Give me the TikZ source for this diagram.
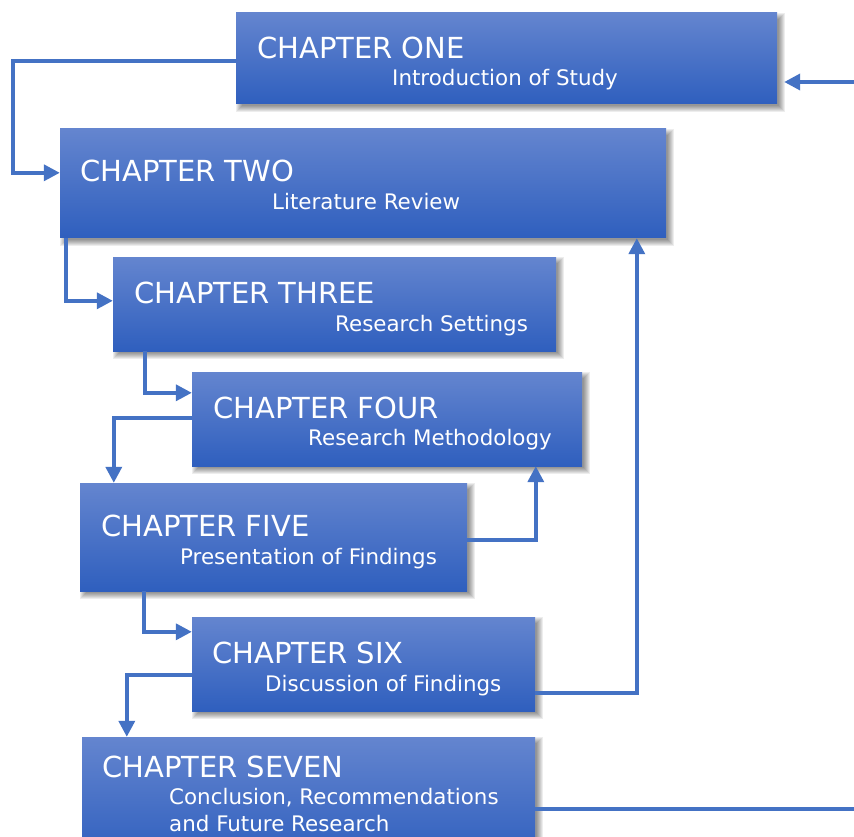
\documentclass[tikz,border=0pt]{standalone}
\usepackage{fontspec}
\setmainfont{DejaVu Sans}
\usetikzlibrary{arrows.meta,calc}

\definecolor{boxtop}{RGB}{100,133,207}
\definecolor{boxbot}{RGB}{47,95,190}
\definecolor{linkblue}{RGB}{68,114,196}

\tikzset{
  chapbox/.style={rectangle, inner sep=0pt, top color=boxtop, bottom color=boxbot,
    draw=none},
  chaptitle/.style={anchor=base west, inner sep=0pt, text=white,
    font=\fontsize{29}{34}\selectfont},
  chapsub/.style={anchor=base west, inner sep=0pt, text=white, align=left,
    font=\fontsize{21.4}{27}\selectfont},
  link/.style={draw=linkblue, line width=3.6pt, line join=miter},
  conn/.style={link, -{Triangle[length=16pt,width=16pt]}},
}

% soft drop shadow built from stacked translucent rectangles
\newcommand{\softshadow}[4]{%
  \foreach \s in {0,1,...,6}{
    \fill[black, opacity=0.07]
      (#1+4-\s+2,#2+4-\s+2) rectangle (#3+4+\s-2,#4+4+\s-2);
  }%
}

\begin{document}
\begin{tikzpicture}[x=1pt,y=-1pt]
  \clip (0,0) rectangle (854,837);
  \fill[white] (0,0) rectangle (854,837);

  % shadows
  \softshadow{236}{13}{777}{104}
  \softshadow{60}{129}{666}{238}
  \softshadow{113}{257}{556}{351}
  \softshadow{192}{372}{582}{466}
  \softshadow{80}{483}{467}{591}
  \softshadow{192}{617}{535}{711}
  \softshadow{82}{737}{535}{860}

  % chapter boxes
  \node[chapbox, minimum width=541pt, minimum height=91pt]  (b1) at (506.5,58.5) {};
  \node[chapbox, minimum width=606pt, minimum height=109pt] (b2) at (363,183.5) {};
  \node[chapbox, minimum width=443pt, minimum height=94pt]  (b3) at (334.5,304) {};
  \node[chapbox, minimum width=390pt, minimum height=94pt]  (b4) at (387,419) {};
  \node[chapbox, minimum width=387pt, minimum height=108pt] (b5) at (273.5,537) {};
  \node[chapbox, minimum width=343pt, minimum height=94pt]  (b6) at (363.5,664) {};
  \node[chapbox, minimum width=453pt, minimum height=123pt] (b7) at (308.5,798.5) {};

  % chapter titles and subtitles
  \node[chaptitle] (t1) at (257,59)  {CHAPTER ONE};
  \node[chapsub]   (s1) at (392,86)  {Introduction of Study};
  \node[chaptitle] (t2) at (80,182)  {CHAPTER TWO};
  \node[chapsub]   (s2) at (272,210) {Literature Review};
  \node[chaptitle] (t3) at (134,303) {CHAPTER THREE};
  \node[chapsub]   (s3) at (335,331) {Research Settings};
  \node[chaptitle] (t4) at (213,418) {CHAPTER FOUR};
  \node[chapsub]   (s4) at (308,445) {Research Methodology};
  \node[chaptitle] (t5) at (101,536) {CHAPTER FIVE};
  \node[chapsub]   (s5) at (180,564) {Presentation of Findings};
  \node[chaptitle] (t6) at (212,663) {CHAPTER SIX};
  \node[chapsub]   (s6) at (265,691) {Discussion of Findings};
  \node[chaptitle] (t7) at (102,777) {CHAPTER SEVEN};
  \node[chapsub]   (s7) at (169,804) {Conclusion, Recommendations};
  \node[chapsub]   (s7b) at (169,831) {and Future Research};

  % loose ends at the right border
  \coordinate (inR)  at (858,82);
  \coordinate (outR) at (858,809);

  % connectors
  \draw[conn] (inR) -- ([xshift=7pt]b1.east |- inR);
  \draw[conn] ($(b1.north west)+(0,48)$) -| ($(b2.north west)+(-47,44)$)
              -- ($(b2.north west)+(0,44)$);
  \draw[conn] ($(b2.south west)+(6,0)$) |- ($(b3.north west)+(0,44)$);
  \draw[conn] ($(b3.south west)+(32,0)$) |- ($(b4.north west)+(0,21)$);
  \draw[conn] ($(b4.north west)+(0,46)$) -| ($(b5.north west)+(34,0)$);
  \draw[conn] ($(b5.north east)+(0,57)$) -| ($(b4.south west)+(344,0)$);
  \draw[conn] ($(b5.south west)+(64,0)$) |- ($(b6.north west)+(0,15)$);
  \draw[conn] ($(b6.north east)+(0,76)$) -| ($(b2.south west)+(577,0)$);
  \draw[conn] ($(b6.north west)+(0,58)$) -| ($(b7.north west)+(45,0)$);
  \draw[link] (b7.east |- outR) -- (outR);
\end{tikzpicture}
\end{document}
